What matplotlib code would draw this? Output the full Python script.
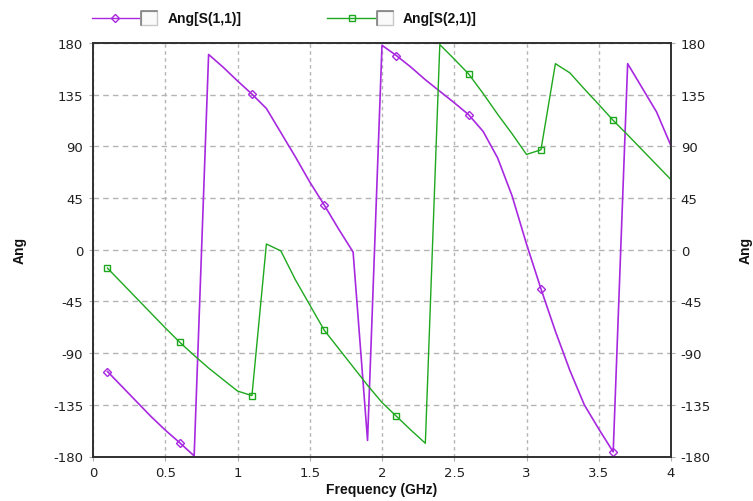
import matplotlib
matplotlib.use("Agg")
import matplotlib.pyplot as plt
from matplotlib.lines import Line2D
from matplotlib.patches import Rectangle

plt.rcParams["axes.unicode_minus"] = False

freq = [0.1, 0.2, 0.3, 0.4, 0.5, 0.6, 0.7, 0.8, 0.9, 1.0,
        1.1, 1.2, 1.3, 1.4, 1.5, 1.6, 1.7, 1.8, 1.9, 2.0,
        2.1, 2.2, 2.3, 2.4, 2.5, 2.6, 2.7, 2.8, 2.9, 3.0,
        3.1, 3.2, 3.3, 3.4, 3.5, 3.6, 3.7, 3.8, 3.9, 4.0]
ang_s11 = [-106, -119, -132, -145, -157, -168, -179.5, 170, 159, 147,
           135.5, 123, 102, 81, 59, 39, 18, -2, -166, 178,
           169, 159, 148, 138, 128, 117.5, 103, 80, 47, 5,
           -34, -71, -105, -135, -156, -176, 162, 141, 120, 90.5]
ang_s21 = [-16, -29, -42, -55, -68, -80.5, -92, -103, -113, -123,
           -127, 5, -1, -26, -48, -70, -86, -102, -118, -133,
           -145, -157, -168.5, 178.6, 166, 153, 136, 118, 101, 83,
           87, 162, 154, 140, 126.5, 112.6, 100, 87, 74, 61]
yticks = [-180, -135, -90, -45, 0, 45, 90, 135, 180]
xticks = [0, 0.5, 1, 1.5, 2, 2.5, 3, 3.5, 4]
xtick_labels = ["0", "0.5", "1", "1.5", "2", "2.5", "3", "3.5", "4"]
names = ["Ang[S(1,1)]", "Ang[S(2,1)]"]

c11 = "#A828E0"
c21 = "#1EA81E"

W, H = 753, 502
fig = plt.figure(figsize=(W / 100, H / 100), dpi=100)
ax = fig.add_axes([93 / W, 1 - 457.5 / H, (671 - 93) / W, (457.5 - 44) / H])

ax.plot(freq, ang_s11, color=c11, lw=1.2, marker="D", markevery=5,
        markersize=4.5, markerfacecolor="none", markeredgewidth=1.0, zorder=3)
ax.plot(freq, ang_s21, color=c21, lw=1.0, marker="s", markevery=5,
        markersize=4.5, markerfacecolor="none", markeredgewidth=1.0, zorder=3)

ax.set_xlim(0, 4)
ax.set_ylim(-180, 180)
ax.set_xticks(xticks)
ax.set_xticklabels(xtick_labels)
ax.set_yticks(yticks)
ax.grid(True, axis="x", color="#b4b4b4", linestyle=(0, (2.5, 2.5)), lw=1.0)
ax.grid(True, axis="y", color="#b4b4b4", linestyle=(0, (4, 3)), lw=1.0)
for s in ax.spines.values():
    s.set_color("#303030")
    s.set_linewidth(1.2)

ax.tick_params(axis="both", length=3, color="#b0b0b0", pad=4, labelsize=9.5,
               labelcolor="#202020")
for lab in ax.get_xticklabels() + ax.get_yticklabels():
    lab.set_family("DejaVu Sans")

ax2 = ax.twinx()
ax2.set_ylim(-180, 180)
ax2.set_yticks(yticks)
ax2.tick_params(axis="y", length=3, color="#b0b0b0", pad=4, labelsize=9.5,
                labelcolor="#202020")
for lab in ax2.get_yticklabels():
    lab.set_family("DejaVu Sans")
for s in ax2.spines.values():
    s.set_color("#303030")
    s.set_linewidth(1.2)

lbl = dict(family="Liberation Sans", weight="bold", size=10, color="#111111")
ax.set_xlabel("Frequency (GHz)", labelpad=2, **lbl)
fig.text(20 / W, 1 - 250 / H, "Ang", rotation=90, ha="center", va="center", **lbl)
fig.text(746 / W, 1 - 250 / H, "Ang", rotation=90, ha="center", va="center", **lbl)

# legend
def legend_item(x0, x1, xm, bx0, bx1, tx, color, marker, text):
    y = 1 - 19 / H
    fig.add_artist(Line2D([x0 / W, x1 / W], [y, y], color=color, lw=1.0,
                          transform=fig.transFigure))
    fig.add_artist(Line2D([xm / W], [y], color=color, marker=marker, markersize=4.5,
                          markerfacecolor="none", markeredgewidth=1.0,
                          transform=fig.transFigure))
    fig.add_artist(Rectangle((bx0 / W, 1 - 25.5 / H), (bx1 - bx0) / W, 13.5 / H,
                             facecolor="#fafafa", edgecolor="#c8c8c8", lw=1.0,
                             transform=fig.transFigure))
    fig.add_artist(Line2D([bx0 / W, bx0 / W, bx1 / W], [1 - 25.5 / H, 1 - 12 / H, 1 - 12 / H],
                          color="#808080", lw=1.2, transform=fig.transFigure))
    fig.text(tx / W, y, text, ha="left", va="center", **lbl)

legend_item(92, 139, 114.5, 140.5, 157, 167.5, c11, "D", names[0])
legend_item(327, 375, 352, 376.5, 393, 403, c21, "s", names[1])

fig.savefig("out.png", dpi=100)
